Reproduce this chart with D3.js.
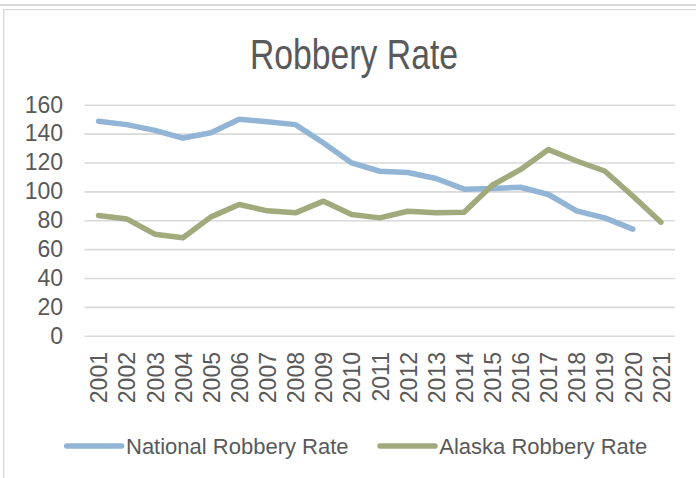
<!DOCTYPE html>
<html>
<head>
<meta charset="utf-8">
<script src="https://cdn.jsdelivr.net/npm/d3@7"></script>
<style>
  body { margin: 0; background: #fff; }
  svg { display: block; font-family: "Liberation Sans", Arial, sans-serif; }
</style>
</head>
<body>
<div id="chart"></div>
<script>
// data
var years = ["2001", "2002", "2003", "2004", "2005", "2006", "2007", "2008", "2009", "2010",
             "2011", "2012", "2013", "2014", "2015", "2016", "2017", "2018", "2019", "2020", "2021"];
var nationalRate = [148.5, 146.2, 142.2, 136.9, 140.6, 149.9, 148.2, 146.2, 133.5, 119.7,
                    113.9, 113.0, 108.9, 101.5, 101.9, 102.8, 97.8, 86.5, 81.6, 73.8, null];
var alaskaRate = [83.3, 80.9, 70.3, 67.8, 82.3, 90.9, 86.5, 85.1, 93.2, 84.0,
                  81.6, 86.2, 85.1, 85.5, 104.2, 115.0, 128.9, 121.0, 114.1, 96.8, 78.6];
var yTicks = [0, 20, 40, 60, 80, 100, 120, 140, 160];

var seriesNames = ["National Robbery Rate", "Alaska Robbery Rate"];
var seriesColors = ["#92b5d6", "#a1aa7d"];

var W = 696, H = 478;
var plotLeft = 84.5, plotRight = 675, plotTop = 104.7, plotBottom = 335.7;
var textColor = "#595959", gridColor = "#d9d9d9";

var svg = d3.select("#chart").append("svg")
    .attr("width", W)
    .attr("height", H);

// outer frame
svg.append("line")
    .attr("x1", 0).attr("x2", W).attr("y1", 5).attr("y2", 5)
    .attr("stroke", gridColor).attr("stroke-width", 2);
svg.append("path")
    .attr("d", "M3.7," + H + "V9.6H" + W)
    .attr("fill", "none")
    .attr("stroke", gridColor).attr("stroke-width", 1.4);

// title
svg.append("text")
    .attr("x", 354).attr("y", 69)
    .attr("text-anchor", "middle")
    .attr("font-size", 42)
    .attr("fill", textColor)
    .attr("textLength", 208)
    .attr("lengthAdjust", "spacingAndGlyphs")
    .text("Robbery Rate");

var x = d3.scalePoint()
    .domain(years)
    .range([plotLeft, plotRight])
    .padding(0.5);

var y = d3.scaleLinear()
    .domain([0, 160])
    .range([plotBottom, plotTop]);

// y axis + gridlines
var yAxis = svg.append("g")
    .attr("transform", "translate(" + plotLeft + ",0)")
    .call(d3.axisLeft(y)
        .tickValues(yTicks)
        .tickSize(-(plotRight - plotLeft))
        .tickPadding(21.5));
yAxis.select(".domain").remove();
yAxis.selectAll(".tick line")
    .attr("stroke", gridColor)
    .attr("stroke-width", 1.6);
yAxis.selectAll(".tick text")
    .attr("fill", textColor)
    .attr("font-size", 23)
    .attr("font-family", "'Liberation Sans', Arial, sans-serif");

// x axis labels (rotated)
var xAxis = svg.append("g")
    .attr("transform", "translate(0," + plotBottom + ")")
    .call(d3.axisBottom(x).tickSize(0));
xAxis.select(".domain").remove();
xAxis.selectAll(".tick text")
    .attr("transform", "rotate(-90)")
    .attr("x", -16.3)
    .attr("y", 0)
    .attr("dy", "0.36em")
    .attr("text-anchor", "end")
    .attr("fill", textColor)
    .attr("font-size", 23)
    .attr("font-family", "'Liberation Sans', Arial, sans-serif");

// lines
var line = d3.line()
    .defined(function (d) { return d != null; })
    .x(function (d, i) { return x(years[i]); })
    .y(function (d) { return y(d); });

[nationalRate, alaskaRate].forEach(function (s, k) {
    svg.append("path")
        .datum(s)
        .attr("d", line)
        .attr("fill", "none")
        .attr("stroke", seriesColors[k])
        .attr("stroke-width", 5.5)
        .attr("stroke-linejoin", "round")
        .attr("stroke-linecap", "round");
});

// legend
var legendX = [66.7, 380];
var legend = svg.selectAll(".legend")
    .data(seriesNames)
    .enter().append("g")
    .attr("class", "legend")
    .attr("transform", function (d, i) { return "translate(" + legendX[i] + ",446)"; });
legend.append("line")
    .attr("x1", 0).attr("x2", 55)
    .attr("stroke", function (d, i) { return seriesColors[i]; })
    .attr("stroke-width", 5.5)
    .attr("stroke-linecap", "round");
legend.append("text")
    .attr("x", 59.3)
    .attr("y", 7.5)
    .attr("font-size", 22)
    .attr("fill", textColor)
    .text(function (d) { return d; });
</script>
</body>
</html>
